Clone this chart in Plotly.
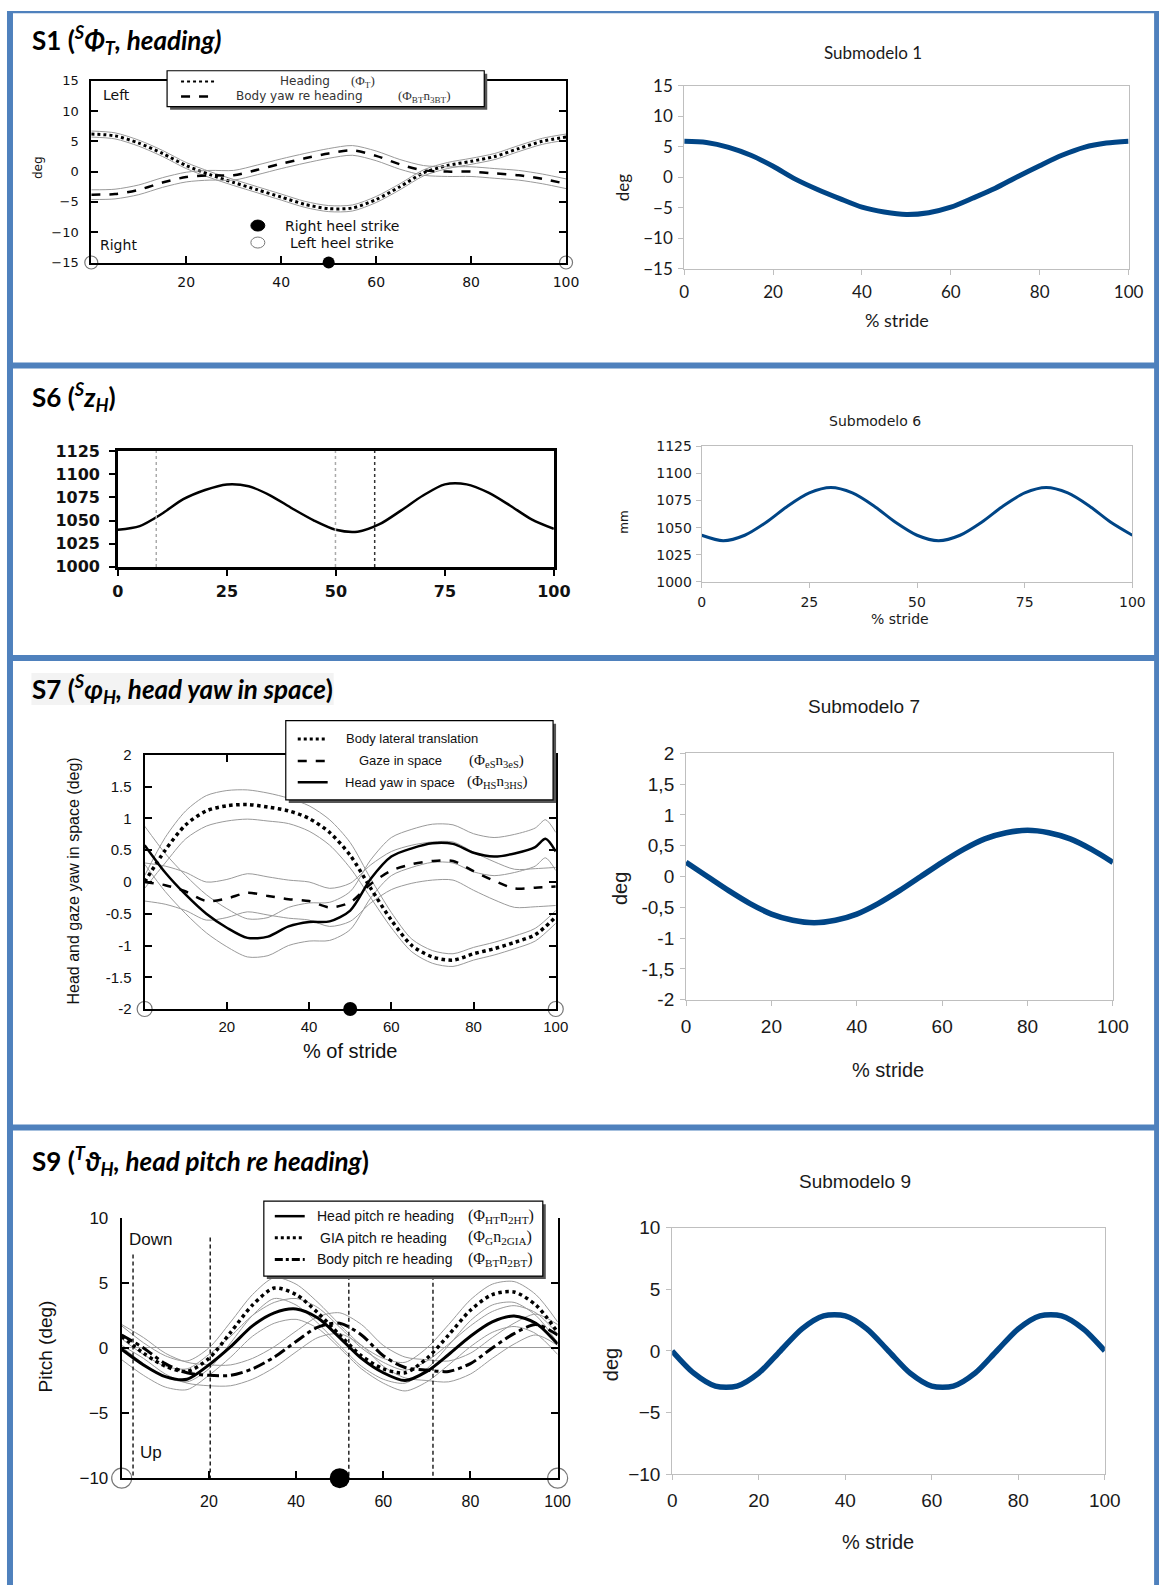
import plotly.graph_objects as go

W, H = 1176, 1596
# the page photograph maps figure pixels slightly (measured): image = A*fig + B
AX, BX = 0.983, 4.5
AY, BY = 0.9873, 10.2
def px(t): return ((t - BX) / AX) / W
def py(t): return 1 - ((t - BY) / AY) / H

# ---------------- data ----------------
stride = [0, 5, 10, 15, 20, 25, 30, 35, 40, 45, 50, 55, 60, 65, 70, 75, 80, 85, 90, 95, 100]

s1_heading = [6.2, 5.9, 4.7, 3.0, 1.0, -0.5, -1.8, -3.0, -4.2, -5.4, -6.1, -6.0, -4.6, -2.5, -0.2, 1.0, 1.7, 2.5, 3.8, 5.0, 5.7]
s1_heading_sd = 0.5
s1_bodyyaw = [-3.8, -3.7, -3.0, -1.8, -0.9, -0.6, -0.6, 0.3, 1.3, 2.2, 3.0, 3.5, 2.6, 1.2, 0.2, 0.0, 0.0, -0.3, -0.6, -1.2, -2.0]
s1_bodyyaw_sd = 0.8
s1_model = [5.9, 5.7, 4.9, 3.6, 1.8, -0.3, -2.0, -3.5, -4.9, -5.7, -6.1, -5.8, -4.9, -3.4, -1.8, 0.1, 1.9, 3.6, 4.9, 5.6, 5.9]

left_heel_x = [0, 100]
right_heel_x = [50]

s6_data = [1040, 1044, 1057, 1073, 1083, 1089, 1087, 1077, 1063, 1050, 1040, 1038, 1046, 1061, 1077, 1089, 1089, 1080, 1066, 1051, 1041]
s6_event_x = [8.8, 49.9, 58.9]
s6_model = [1043, 1038, 1043, 1055, 1070, 1082, 1087, 1082, 1070, 1055, 1043, 1038, 1043, 1055, 1070, 1082, 1087, 1082, 1070, 1055, 1043]

s7_lat = [0.0, 0.5, 0.9, 1.12, 1.2, 1.22, 1.18, 1.12, 1.0, 0.78, 0.42, -0.1, -0.6, -1.0, -1.18, -1.23, -1.13, -1.05, -0.95, -0.83, -0.55]
s7_lat_sd = [0.1, 0.2, 0.22, 0.24, 0.24, 0.23, 0.22, 0.2, 0.2, 0.2, 0.2, 0.15, 0.12, 0.1, 0.1, 0.1, 0.1, 0.1, 0.1, 0.1, 0.1]
s7_gaze = [0.0, -0.05, -0.15, -0.3, -0.26, -0.17, -0.22, -0.27, -0.3, -0.4, -0.32, -0.03, 0.18, 0.28, 0.33, 0.33, 0.17, 0.02, -0.1, -0.09, -0.07]
s7_gaze_sd = 0.3
s7_head_x = [0, 5, 10, 15, 20, 25, 30, 35, 40, 45, 50, 55, 60, 65, 70, 75, 80, 85, 90, 95, 97.5, 100]
s7_head = [0.58, 0.15, -0.2, -0.5, -0.72, -0.88, -0.86, -0.7, -0.63, -0.62, -0.45, 0.05, 0.4, 0.53, 0.61, 0.6, 0.46, 0.4, 0.45, 0.55, 0.68, 0.48]
s7_head_sd = 0.3
s7_model = [0.23, 0.0, -0.23, -0.44, -0.61, -0.71, -0.75, -0.71, -0.61, -0.44, -0.23, 0.0, 0.23, 0.44, 0.61, 0.71, 0.75, 0.71, 0.61, 0.44, 0.23]

s9_head = [-0.1, -1.3, -2.2, -2.4, -1.3, 0.1, 1.7, 2.7, 3.0, 2.3, 0.8, -0.8, -1.9, -2.5, -1.8, -0.5, 0.9, 2.0, 2.45, 1.9, 0.3]
s9_gia = [0.9, -0.4, -1.4, -1.8, -0.8, 1.2, 3.3, 4.6, 4.1, 2.7, 1.0, -0.6, -1.6, -1.9, -0.8, 1.0, 2.9, 4.1, 4.3, 3.3, 1.2]
s9_body = [1.0, 0.0, -1.2, -1.9, -2.1, -2.1, -1.6, -0.7, 0.5, 1.6, 1.9, 1.0, -0.6, -1.5, -1.7, -1.8, -1.2, 0.0, 1.1, 1.8, 1.0]
s9_sd = 0.8
s9_event_x = [2.6, 20.3, 52.1, 71.4]
s9_event_top = [7.4, 8.7, 11.8, 11.8]
s9_event_bottom = [-11.4, -10.1, -12.5, -12.5]
s9_model = [0.0, -1.8, -2.85, -2.85, -1.8, 0.0, 1.8, 2.85, 2.85, 1.8, 0.0, -1.8, -2.85, -2.85, -1.8, 0.0, 1.8, 2.85, 2.85, 1.8, 0.0]

# ---------------- styles ----------------
BLUE = "#004586"
GRAY = "#9a9a9a"
FRAME = "#4F81BD"
ARIAL = "Liberation Sans, Arial, sans-serif"
NARROW = "Liberation Sans Narrow, Liberation Sans, Arial, sans-serif"
DEJAVU = "DejaVu Sans, sans-serif"
CALIBRI = "Lato, Noto Sans, sans-serif"
SERIF = "Liberation Serif, serif"

fig = go.Figure()

def line(xs, ys, ax, color="black", width=2.5, dash="solid"):
    fig.add_trace(go.Scatter(x=xs, y=ys, xaxis="x" + ax, yaxis="y" + ax, mode="lines",
                             line=dict(color=color, width=width, dash=dash, shape="spline", smoothing=0.8),
                             showlegend=False, hoverinfo="skip"))

def band(xs, ys, sd, ax):
    sds = sd if isinstance(sd, list) else [sd] * len(ys)
    line(xs, [a + b for a, b in zip(ys, sds)], ax, GRAY, 1)
    line(xs, [a - b for a, b in zip(ys, sds)], ax, GRAY, 1)

def heel(ax, ybase, size_open, size_fill):
    fig.add_trace(go.Scatter(x=left_heel_x, y=[ybase] * len(left_heel_x), xaxis="x" + ax, yaxis="y" + ax,
                             mode="markers", cliponaxis=False, showlegend=False, hoverinfo="skip",
                             marker=dict(size=size_open, color="white", line=dict(color="#777", width=1.2))))
    fig.add_trace(go.Scatter(x=right_heel_x, y=[ybase] * len(right_heel_x), xaxis="x" + ax, yaxis="y" + ax,
                             mode="markers", cliponaxis=False, showlegend=False, hoverinfo="skip",
                             marker=dict(size=size_fill, color="black")))

band(stride, s1_heading, s1_heading_sd, "")
line(stride, s1_heading, "", "black", 3, "dot")
band(stride, s1_bodyyaw, s1_bodyyaw_sd, "")
line(stride, s1_bodyyaw, "", "black", 2.5, "dash")
heel("", -15, 13, 12)
line(stride, s1_model, "2", BLUE, 5)
line(stride, s6_data, "3", "black", 2.5)
line(stride, s6_model, "4", BLUE, 3)
band(stride, s7_lat, s7_lat_sd, "5")
band(stride, s7_gaze, s7_gaze_sd, "5")
band(s7_head_x, s7_head, s7_head_sd, "5")
line(stride, s7_lat, "5", "black", 3.5, "dot")
line(stride, s7_gaze, "5", "black", 2.5, "dash")
line(s7_head_x, s7_head, "5", "black", 2.5)
heel("5", -2, 15, 14)
line(stride, s7_model, "6", BLUE, 5.5)
band(stride, s9_head, s9_sd, "7")
band(stride, s9_gia, s9_sd, "7")
band(stride, s9_body, s9_sd, "7")
line(stride, s9_head, "7", "black", 3)
line(stride, s9_gia, "7", "black", 3.5, "dot")
line(stride, s9_body, "7", "black", 3, "12px,4px,4px,4px")
heel("7", -10, 20, 20)
line(stride, s9_model, "8", BLUE, 5.5)

# ---------------- axes ----------------
def xax(l, r, anchor, **kw):
    d = dict(domain=[px(l), px(r)], anchor=anchor, range=[0, 100], showgrid=False, zeroline=False)
    d.update(kw)
    return d

def yax(t, b, anchor, rng, **kw):
    d = dict(domain=[py(b), py(t)], anchor=anchor, range=rng, showgrid=False, zeroline=False)
    d.update(kw)
    return d

scan = dict(showline=True, linecolor="black", linewidth=2, ticks="inside", ticklen=7, tickwidth=2, tickcolor="black")
office = dict(showline=True, linecolor="#BFBFBF", linewidth=1, mirror=True, ticks="outside", ticklen=5,
              tickwidth=1, tickcolor="#BFBFBF")

layout_axes = dict(
    xaxis=xax(90, 566, "y", tickvals=[20, 40, 60, 80, 100], mirror=True, ticklabelstandoff=6,
              tickfont=dict(family=DEJAVU, size=14, color="#111"), **scan),
    yaxis=yax(80, 262, "x", [-15, 15], tickvals=[-15, -10, -5, 0, 5, 10, 15], mirror="ticks",
              ticklabelstandoff=8, tickfont=dict(family=DEJAVU, size=13, color="#111"), **scan),
    xaxis2=xax(684.5, 1130, "y2", tickvals=[0, 20, 40, 60, 80, 100], ticklabelstandoff=3,
               tickfont=dict(family=CALIBRI, size=17, color="#1a1a1a"), **office),
    yaxis2=yax(85, 268.3, "x2", [-15, 15], tickvals=[-15, -10, -5, 0, 5, 10, 15], ticklabelstandoff=2,
               tickfont=dict(family=CALIBRI, size=17, color="#1a1a1a"), **office),
    xaxis3=xax(116.7, 553.8, "y3", tickvals=[0, 25, 50, 75, 100], showline=True, linecolor="black",
               linewidth=2.5, mirror=True, ticks="outside", ticklen=6, tickwidth=2, tickcolor="black",
               ticklabelstandoff=2, tickfont=dict(family=DEJAVU, size=16, color="#111", weight="bold")),
    yaxis3=yax(450.7, 566.7, "x3", [1000, 1125], tickvals=[1000, 1025, 1050, 1075, 1100, 1125], showline=True,
               linecolor="black", linewidth=2.5, mirror=True, ticks="outside", ticklen=6, tickwidth=2,
               tickcolor="black", ticklabelstandoff=6,
               tickfont=dict(family=DEJAVU, size=16, color="#111", weight="bold")),
    xaxis4=xax(702, 1133.8, "y4", tickvals=[0, 25, 50, 75, 100], ticklabelstandoff=2,
               tickfont=dict(family=DEJAVU, size=14, color="#1a1a1a"), **office),
    yaxis4=yax(446, 581.7, "x4", [1000, 1125], tickvals=[1000, 1025, 1050, 1075, 1100, 1125], ticklabelstandoff=1,
               tickfont=dict(family=DEJAVU, size=14, color="#1a1a1a"), **office),
    xaxis5=xax(143.5, 555.7, "y5", tickvals=[20, 40, 60, 80, 100], mirror="ticks", ticklabelstandoff=3,
               tickfont=dict(family=ARIAL, size=15, color="#111"), **scan),
    yaxis5=yax(755, 1009.3, "x5", [-2, 2], tickvals=[-2, -1.5, -1, -0.5, 0, 0.5, 1, 1.5, 2],
               ticktext=["-2", "-1.5", "-1", "-0.5", "0", "0.5", "1", "1.5", "2"], mirror="ticks",
               ticklabelstandoff=8, tickfont=dict(family=ARIAL, size=15, color="#111"), **scan),
    xaxis6=xax(686.3, 1114.3, "y6", tickvals=[0, 20, 40, 60, 80, 100], ticklabelstandoff=4,
               tickfont=dict(family=NARROW, size=19, color="#1a1a1a"), **office),
    yaxis6=yax(753.3, 1000, "x6", [-2, 2], tickvals=[-2, -1.5, -1, -0.5, 0, 0.5, 1, 1.5, 2],
               ticktext=["-2", "-1,5", "-1", "-0,5", "0", "0,5", "1", "1,5", "2"], ticklabelstandoff=2,
               tickfont=dict(family=NARROW, size=19, color="#1a1a1a"), **office),
    xaxis7=xax(120.5, 557.6, "y7", tickvals=[20, 40, 60, 80, 100], mirror=False, ticklabelstandoff=8,
               tickfont=dict(family=ARIAL, size=16, color="#111"), **scan),
    yaxis7=yax(1218.3, 1479, "x7", [-10, 10], tickvals=[-10, -5, 0, 5, 10], mirror="ticks", ticklabelstandoff=8,
               zeroline=True, zerolinecolor="#999", zerolinewidth=1,
               tickfont=dict(family=ARIAL, size=17, color="#111"), **scan),
    xaxis8=xax(672.4, 1106.2, "y8", tickvals=[0, 20, 40, 60, 80, 100], ticklabelstandoff=4,
               tickfont=dict(family=NARROW, size=19, color="#1a1a1a"), **office),
    yaxis8=yax(1228.3, 1475, "x8", [-10, 10], tickvals=[-10, -5, 0, 5, 10], ticklabelstandoff=2,
               tickfont=dict(family=NARROW, size=19, color="#1a1a1a"), **office),
)

shapes = []
anns = []

def clip01(v): return min(max(v, 0.0), 1.0)

def hline(x0, x1, y, color, width, dash="solid"):
    shapes.append(dict(type="line", xref="paper", yref="paper", x0=clip01(px(x0)), x1=clip01(px(x1)),
                       y0=py(y), y1=py(y), line=dict(color=color, width=width, dash=dash), layer="above"))

def vline(x, y0, y1, color, width):
    shapes.append(dict(type="line", xref="paper", yref="paper", x0=px(x), x1=px(x), y0=clip01(py(y0)),
                       y1=clip01(py(y1)), line=dict(color=color, width=width), layer="above"))

def box(x0, y0, x1, y1):
    shapes.append(dict(type="rect", xref="paper", yref="paper", x0=px(x0 + 3), x1=px(x1 + 3), y0=py(y1 + 3),
                       y1=py(y0 + 3), fillcolor="#555", line=dict(width=0), layer="above"))
    shapes.append(dict(type="rect", xref="paper", yref="paper", x0=px(x0), x1=px(x1), y0=py(y1), y1=py(y0),
                       fillcolor="white", line=dict(color="black", width=1.2), layer="above"))

def txt(text, x, y, size, family, xanchor="left", angle=0, color="#111"):
    anns.append(dict(text=text, x=px(x), y=py(y), xref="paper", yref="paper", xanchor=xanchor, yanchor="middle",
                     showarrow=False, textangle=angle, font=dict(size=size, family=family, color=color)))

def circ(cx, cy, rx, ry, filled):
    shapes.append(dict(type="circle", xref="paper", yref="paper", x0=px(cx - rx), x1=px(cx + rx),
                       y0=py(cy + ry), y1=py(cy - ry), fillcolor="black" if filled else "white",
                       line=dict(color="black" if filled else "#777", width=1), layer="above"))

# blue section frames (top edge and right edge kept inside the figure)
shapes.append(dict(type="rect", xref="paper", yref="paper", x0=clip01(px(5.5)), x1=1, y0=0.9985, y1=1,
                   fillcolor=FRAME, line=dict(width=0), layer="above"))
for y in [365, 658, 1128]:
    hline(5.5, 1176, y, FRAME, 6)
vline(8.5, 5, 1596, FRAME, 6)
shapes.append(dict(type="rect", xref="paper", yref="paper", x0=1 - 5 / W, x1=1, y0=0, y1=1,
                   fillcolor=FRAME, line=dict(width=0), layer="above"))

shapes.append(dict(type="rect", xref="paper", yref="paper", x0=px(30), x1=px(333), y0=py(705), y1=py(673),
                   fillcolor="#F3F3F3", line=dict(width=0), layer="below"))
txt("<b>S1 (<sup><i>S</i></sup><i>Φ<sub>T</sub>, heading)</i></b>", 29, 39, 26, CALIBRI, color="#000")
txt("<b>S6 (<sup><i>S</i></sup><i>z<sub>H</sub></i>)</b>", 29, 397, 26, CALIBRI, color="#000")
txt("<b>S7 (<sup><i>S</i></sup><i>φ<sub>H</sub>, head yaw in space</i>)</b>", 29, 689, 26, CALIBRI, color="#000")
txt("<b>S9 (<sup><i>T</i></sup><i>ϑ<sub>H</sub>, head pitch re heading</i>)</b>", 29, 1161, 26, CALIBRI, color="#000")

box(166, 70, 484, 106)
hline(180, 216, 80.7, "black", 2, "dot")
hline(180, 214, 95.7, "black", 2.5, "dash")
txt("Heading", 277, 80.7, 12, DEJAVU, color="#333")
txt("(Φ<sub>T</sub>)", 348, 80.7, 13, SERIF, color="#333")
txt("Body yaw re heading", 233, 95.7, 12, DEJAVU, color="#333")
txt("(Φ<sub>BT</sub>n<sub>3BT</sub>)", 396, 95.7, 13, SERIF, color="#333")
txt("Left", 100, 94, 14, DEJAVU)
txt("Right", 97, 244, 14, DEJAVU)
circ(257, 225, 7, 5.5, True)
circ(257, 242, 7, 5.5, False)
txt("Right heel strike", 282, 225, 14, DEJAVU)
txt("Left heel strike", 287, 242, 14, DEJAVU)
txt("deg", 36, 167, 12, DEJAVU, "center", -90)

txt("Submodelo 1", 873.7, 51.7, 17, CALIBRI, "center", color="#1a1a1a")
txt("% stride", 897.6, 320, 18, CALIBRI, "center", color="#1a1a1a")
txt("deg", 622, 186.7, 17, CALIBRI, "center", -90, color="#1a1a1a")

for i, ex in enumerate(s6_event_x):
    shapes.append(dict(type="line", xref="x3", yref="y3", x0=ex, x1=ex, y0=1000, y1=1125,
                       line=dict(color="#aaa" if i < 2 else "#333", width=1.5, dash="dot"), layer="above"))

txt("Submodelo 6", 876, 420.7, 14, DEJAVU, "center", color="#1a1a1a")
txt("% stride", 900.5, 619.3, 14, DEJAVU, "center", color="#1a1a1a")
txt("mm", 623.9, 521.7, 12, DEJAVU, "center", -90, color="#1a1a1a")

box(285, 720.7, 553, 800)
hline(297, 327, 739, "black", 3, "dot")
hline(297, 327, 761, "black", 2.5, "dash")
hline(297, 327, 782.3, "black", 2.5)
txt("Body lateral translation", 343, 739, 13, NARROW)
txt("Gaze in space", 356, 761, 13, NARROW)
txt("(Φ<sub>eS</sub>n<sub>3eS</sub>)", 467, 761, 15, SERIF)
txt("Head yaw in space", 342, 782.3, 13, NARROW)
txt("(Φ<sub>HS</sub>n<sub>3HS</sub>)", 465, 782.3, 15, SERIF)
txt("Head and gaze yaw in space (deg)", 72.7, 881.7, 16, ARIAL, "center", -90)
txt("% of stride", 349, 1051, 20, ARIAL, "center")

txt("Submodelo 7", 864.5, 706.7, 19, NARROW, "center", color="#1a1a1a")
txt("% stride", 888.4, 1070, 20, NARROW, "center", color="#1a1a1a")
txt("deg", 620, 888.3, 20, ARIAL, "center", -90, color="#1a1a1a")

for ex, et, eb in zip(s9_event_x, s9_event_top, s9_event_bottom):
    shapes.append(dict(type="line", xref="x7", yref="y7", x0=ex, x1=ex, y0=eb, y1=et,
                       line=dict(color="black", width=1.3, dash="4px,3px"), layer="above"))
box(263, 1201.7, 542.7, 1276.7)
hline(274, 304, 1216.7, "black", 2.5)
hline(274, 304, 1238.3, "black", 3, "dot")
hline(274, 304, 1260, "black", 3, "8px,3px,3px,3px")
txt("Head pitch re heading", 314.6, 1216.7, 14, NARROW)
txt("(Φ<sub>HT</sub>n<sub>2HT</sub>)", 465.7, 1216.7, 16, SERIF)
txt("GIA pitch re heading", 317.6, 1238.3, 14, NARROW)
txt("(Φ<sub>G</sub>n<sub>2GIA</sub>)", 465.7, 1238.3, 16, SERIF)
txt("Body pitch re heading", 314.6, 1260, 14, NARROW)
txt("(Φ<sub>BT</sub>n<sub>2BT</sub>)", 465.7, 1260, 16, SERIF)
txt("Down", 126, 1240, 17, NARROW)
txt("Up", 137, 1453, 17, NARROW)
txt("Pitch (deg)", 44, 1346.7, 19, ARIAL, "center", -90)

txt("Submodelo 9", 856, 1181.7, 19, NARROW, "center", color="#1a1a1a")
txt("% stride", 879.2, 1543.3, 20, NARROW, "center", color="#1a1a1a")
txt("deg", 611, 1365, 20, ARIAL, "center", -90, color="#1a1a1a")

fig.update_layout(
    width=W, height=H, margin=dict(l=0, r=0, t=0, b=0), autosize=False,
    paper_bgcolor="white", plot_bgcolor="rgba(0,0,0,0)", showlegend=False,
    shapes=shapes, annotations=anns, **layout_axes,
)

fig.write_html("out.html")
